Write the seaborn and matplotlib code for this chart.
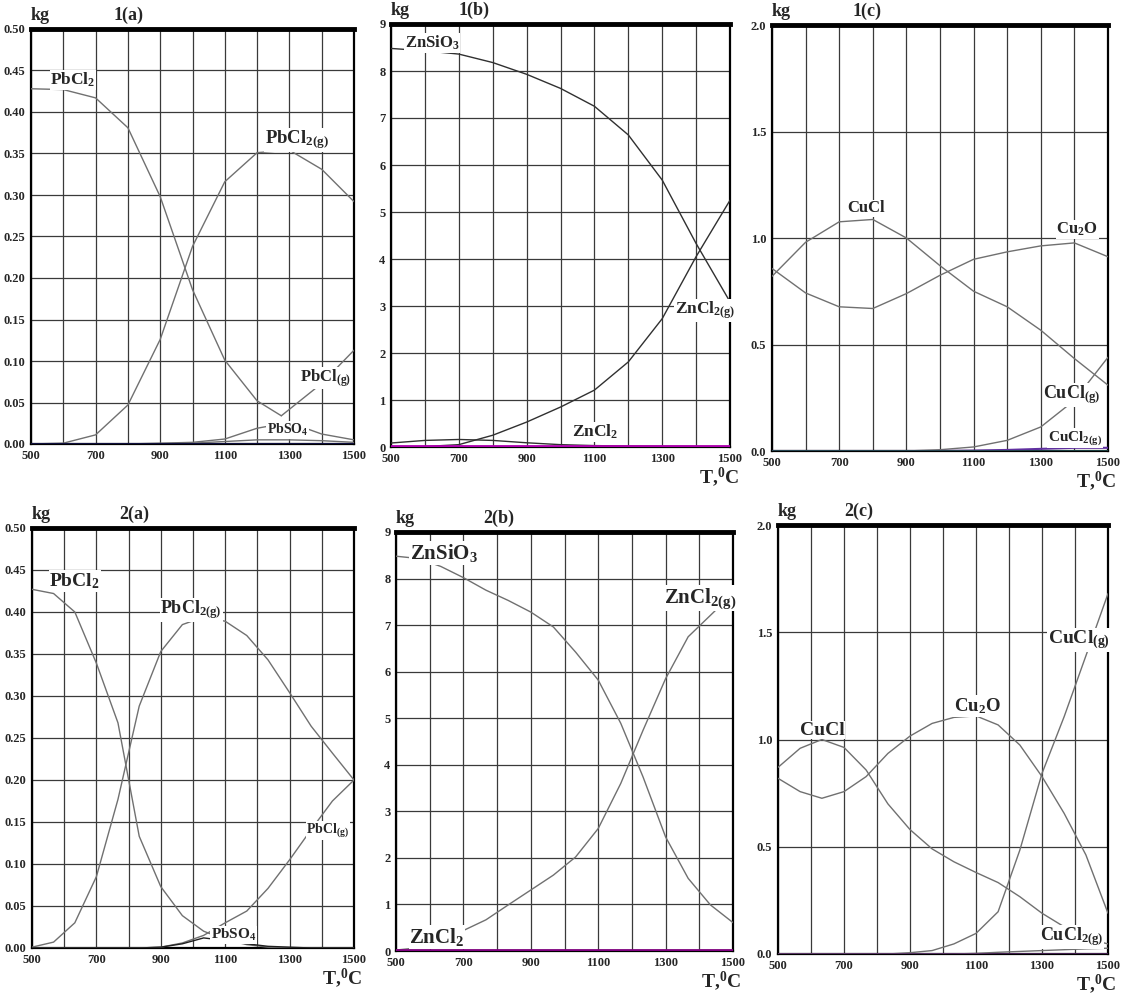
import numpy as np
import pandas as pd
import matplotlib
matplotlib.use("Agg")
import matplotlib.pyplot as plt
import seaborn as sns

# ---------------- data ----------------
T11 = [500, 600, 700, 800, 900, 1000, 1100, 1200, 1300, 1400, 1500]
T16 = [500, 567, 633, 700, 767, 833, 900, 967, 1033, 1100, 1167, 1233, 1300, 1367, 1433, 1500]

# 1(a)
T_1a_pbcl2 = [500, 600, 700, 800, 900, 1000, 1100, 1200, 1275]
pbcl2_1a = [0.428, 0.427, 0.417, 0.381, 0.298, 0.186, 0.101, 0.052, 0.034]
pbcl2g_1a = [0.0, 0.001, 0.011, 0.047, 0.126, 0.238, 0.316, 0.351, 0.354, 0.331, 0.292]
T_1a_pbclg = [1275, 1400, 1500]
pbclg_1a = [0.034, 0.073, 0.113]
pbso4_1a = [0.0, 0.0, 0.0, 0.0, 0.001, 0.002, 0.006, 0.019, 0.026, 0.012, 0.005]
trace_1a = [0.0, 0.0, 0.0, 0.0, 0.0, 0.001, 0.003, 0.005, 0.005, 0.004, 0.002]
zero_1a = [0.0, 0.0, 0.0, 0.0, 0.0, 0.0, 0.0, 0.0, 0.0, 0.0, 0.0]

# 1(b)
znsio3_1b = [8.48, 8.43, 8.36, 8.18, 7.93, 7.63, 7.25, 6.64, 5.68, 4.33, 3.09]
zncl2g_1b = [0.0, 0.01, 0.05, 0.25, 0.53, 0.85, 1.21, 1.81, 2.73, 4.05, 5.25]
zncl2_1b = [0.085, 0.14, 0.16, 0.14, 0.09, 0.05, 0.03, 0.02, 0.015, 0.01, 0.01]
trace_1b = [0.03, 0.03, 0.03, 0.03, 0.03, 0.03, 0.03, 0.03, 0.03, 0.03, 0.03]

# 1(c)
cucl_1c = [0.82, 0.98, 1.076, 1.087, 1.0, 0.87, 0.75, 0.677, 0.567, 0.434, 0.309]
cu2o_1c = [0.857, 0.742, 0.677, 0.669, 0.739, 0.825, 0.90, 0.935, 0.963, 0.977, 0.912]
cuclg_1c = [0.0, 0.0, 0.0, 0.0, 0.0, 0.006, 0.019, 0.05, 0.113, 0.238, 0.44]
cucl2g_1c = [0.0, 0.0, 0.0, 0.0, 0.0, 0.0, 0.002, 0.005, 0.01, 0.015, 0.015]
zero_1c = [0.0, 0.0, 0.0, 0.0, 0.0, 0.0, 0.0, 0.0, 0.0, 0.0, 0.0]

# 2(a)
pbcl2_2a = [0.427, 0.422, 0.40, 0.339, 0.268, 0.133, 0.073, 0.0385, 0.02, 0.01, 0.004, 0.001, 0.0, 0.0, 0.0, 0.0]
pbcl2g_2a = [0.001, 0.007, 0.03, 0.085, 0.177, 0.288, 0.353, 0.385, 0.394, 0.389, 0.372, 0.343, 0.304, 0.264, 0.232, 0.2]
pbclg_2a = [0.0, 0.0, 0.0, 0.0, 0.0, 0.0, 0.001, 0.006, 0.015, 0.03, 0.044, 0.071, 0.105, 0.141, 0.175, 0.2]
pbso4_2a = [0.0, 0.0, 0.0, 0.0, 0.0, 0.0, 0.001, 0.005, 0.012, 0.009, 0.005, 0.002, 0.001, 0.0, 0.0, 0.0]

# 2(b)
znsio3_2b = [8.48, 8.43, 8.26, 8.02, 7.75, 7.53, 7.28, 6.96, 6.42, 5.82, 4.89, 3.74, 2.45, 1.56, 0.99, 0.61]
zncl2g_2b = [0.02, 0.07, 0.2, 0.44, 0.67, 0.99, 1.31, 1.63, 2.02, 2.63, 3.6, 4.74, 5.85, 6.75, 7.21, 7.68]
zncl2_2b = [0.02, 0.02, 0.02, 0.02, 0.02, 0.02, 0.02, 0.02, 0.02, 0.02, 0.02, 0.02, 0.02, 0.02, 0.02, 0.02]

# 2(c)
cucl_2c = [0.87, 0.959, 1.0, 0.963, 0.858, 0.70, 0.58, 0.49, 0.43, 0.38, 0.333, 0.267, 0.19, 0.127, 0.073, 0.047]
cu2o_2c = [0.819, 0.757, 0.726, 0.757, 0.827, 0.935, 1.016, 1.075, 1.103, 1.11, 1.068, 0.974, 0.827, 0.656, 0.462, 0.19]
cuclg_2c = [0.0, 0.0, 0.0, 0.0, 0.0, 0.0, 0.006, 0.016, 0.047, 0.096, 0.197, 0.485, 0.842, 1.106, 1.39, 1.68]
cucl2g_2c = [0.0, 0.0, 0.0, 0.0, 0.0, 0.0, 0.0, 0.0, 0.0, 0.003, 0.008, 0.012, 0.016, 0.02, 0.024, 0.027]
zero_2c = [0.0, 0.0, 0.0, 0.0, 0.0, 0.0, 0.0, 0.0, 0.0, 0.0, 0.0, 0.0, 0.0, 0.0, 0.0, 0.0]

# axis ticks
yt_a = [0.0, 0.05, 0.10, 0.15, 0.20, 0.25, 0.30, 0.35, 0.40, 0.45, 0.50]
yt_b = [0, 1, 2, 3, 4, 5, 6, 7, 8, 9]
yt_c = [0.0, 0.5, 1.0, 1.5, 2.0]
x_grid = [500, 600, 700, 800, 900, 1000, 1100, 1200, 1300, 1400, 1500]
x_labels = ["500", "", "700", "", "900", "", "1100", "", "1300", "", "1500"]

# ---------------- style ----------------
sns.set_style("white")
plt.rcParams["font.family"] = ["Liberation Serif", "DejaVu Serif"]
plt.rcParams["font.weight"] = "bold"
plt.rcParams["mathtext.fontset"] = "custom"
plt.rcParams["mathtext.rm"] = "Liberation Serif:bold"
plt.rcParams["mathtext.it"] = "Liberation Serif:bold"
plt.rcParams["mathtext.bf"] = "Liberation Serif:bold"
plt.rcParams["mathtext.default"] = "rm"

W, H = 1127, 1000
fig = plt.figure(figsize=(W / 100, H / 100), dpi=100)
fig.patch.set_facecolor("white")


def make_ax(l, r, t, b):
    return fig.add_axes([l / W, 1 - b / H, (r - l) / W, (b - t) / H])


GRAY = "#707070"


def style_ax(ax, yt, fmt, ylim, tag, show_T, tag_dx, px_h):
    ax.set_xlim(500, 1500)
    ax.set_ylim(*ylim)
    ax.set_xticks(x_grid)
    ax.set_xticklabels(x_labels)
    ax.set_yticks(yt)
    ax.set_yticklabels([fmt.format(v) for v in yt])
    ax.tick_params(length=0, labelsize=9, pad=4)
    for lab in ax.get_xticklabels() + ax.get_yticklabels():
        lab.set_fontweight("bold")
    ax.grid(True, color="#3a3a3a", lw=0.9)
    ax.set_axisbelow(True)
    for s in ["left", "right", "bottom"]:
        ax.spines[s].set_color("black")
        ax.spines[s].set_linewidth(1.6)
    ax.spines["top"].set_color("black")
    ax.spines["top"].set_linewidth(3.5)
    ax.set_xlabel("")
    ax.set_ylabel("")
    ax.text(0.0, 1.012, "kg", transform=ax.transAxes, fontsize=13,
            fontweight="bold", ha="left", va="bottom")
    ax.text(tag_dx, 1.012, tag, transform=ax.transAxes, fontsize=13,
            fontweight="bold", ha="left", va="bottom")
    if show_T:
        ax.text(1.025, -30.0 / px_h, r"T,$^0$C", transform=ax.transAxes, fontsize=14,
                fontweight="bold", ha="right", va="center")


def line(ax, x, y, color=GRAY, lw=1.0, z=3):
    sns.lineplot(x=x, y=y, ax=ax, color=color, linewidth=lw,
                 estimator=None, sort=False, zorder=z)


def label(ax, x, y, s, size):
    ax.text(x, y, s, fontsize=size, fontweight="bold", ha="center", va="center",
            zorder=6, bbox=dict(facecolor="white", edgecolor="none", pad=0.5))


# ---- 1(a)
ax = make_ax(31, 354, 29, 444)
line(ax, T_1a_pbcl2, pbcl2_1a)
line(ax, T11, pbcl2g_1a)
line(ax, T_1a_pbclg, pbclg_1a)
line(ax, T11, pbso4_1a)
line(ax, T11, trace_1a)
line(ax, T11, zero_1a, color="#101040", lw=2.2, z=4)
style_ax(ax, yt_a, "{:.2f}", (0, 0.5), "1(a)", False, 0.255, 415)
label(ax, 630, 0.439, r"PbCl$_2$", 12.5)
label(ax, 1323, 0.366, r"PbCl$_{2(g)}$", 13.5)
label(ax, 1412, 0.0795, r"PbCl$_{(g)}$", 12)
label(ax, 1295, 0.017, r"PbSO$_4$", 10)

# ---- 1(b)
ax = make_ax(391, 730, 24, 447)
line(ax, T11, znsio3_1b, color="#303030")
line(ax, T11, zncl2g_1b, color="#303030")
line(ax, T11, zncl2_1b, color="#303030")
line(ax, T11, trace_1b, color="#b000b0", lw=2.0, z=4)
style_ax(ax, yt_b, "{:d}", (0, 9), "1(b)", True, 0.2, 423)
label(ax, 621, 8.6, r"ZnSiO$_3$", 12)
label(ax, 1426, 2.91, r"ZnCl$_{2(g)}$", 12.5)
label(ax, 1102, 0.32, r"ZnCl$_2$", 12.5)

# ---- 1(c)
ax = make_ax(772, 1108, 25, 451)
line(ax, T11, cucl_1c)
line(ax, T11, cu2o_1c)
line(ax, T11, cuclg_1c)
line(ax, T11, cucl2g_1c, color="#6030a0", lw=1.5)
line(ax, T11, zero_1c, color="#204848", lw=2.0, z=4)
style_ax(ax, yt_c, "{:.1f}", (0, 2.0), "1(c)", True, 0.24, 426)
label(ax, 780, 1.14, "CuCl", 12)
label(ax, 1408, 1.04, r"Cu$_2$O", 12)
label(ax, 1393, 0.263, r"CuCl$_{(g)}$", 13)
label(ax, 1402, 0.061, r"CuCl$_{2(g)}$", 11)

# ---- 2(a)
ax = make_ax(32, 354, 528, 948)
line(ax, T16, pbcl2_2a)
line(ax, T16, pbcl2g_2a)
line(ax, T16, pbclg_2a)
line(ax, T16, pbso4_2a, color="#202020")
style_ax(ax, yt_a, "{:.2f}", (0, 0.5), "2(a)", True, 0.27, 420)
label(ax, 633, 0.437, r"PbCl$_2$", 14)
label(ax, 994, 0.402, r"PbCl$_{2(g)}$", 13)
label(ax, 1419, 0.14, r"PbCl$_{(g)}$", 10)
label(ax, 1127, 0.0155, r"PbSO$_4$", 11)

# ---- 2(b)
ax = make_ax(396, 733, 532, 951)
line(ax, T16, znsio3_2b)
line(ax, T16, zncl2g_2b)
line(ax, T16, zncl2_2b, color="#800080", lw=2.0, z=4)
style_ax(ax, yt_b, "{:d}", (0, 9), "2(b)", True, 0.26, 419)
label(ax, 642, 8.55, r"ZnSiO$_3$", 15)
label(ax, 1402, 7.58, r"ZnCl$_{2(g)}$", 15)
label(ax, 622, 0.3, r"ZnCl$_2$", 15)

# ---- 2(c)
ax = make_ax(778, 1108, 525, 954)
line(ax, T16, cucl_2c)
line(ax, T16, cu2o_2c)
line(ax, T16, cuclg_2c)
line(ax, T16, cucl2g_2c)
line(ax, T16, zero_2c, color="#5a2a6a", lw=1.8, z=4)
style_ax(ax, yt_c, "{:.1f}", (0, 2.0), "2(c)", True, 0.2, 429)
label(ax, 633, 1.044, "CuCl", 14)
label(ax, 1103, 1.156, r"Cu$_2$O", 13.5)
label(ax, 1412, 1.464, r"CuCl$_{(g)}$", 14)
label(ax, 1390, 0.08, r"CuCl$_{2(g)}$", 13)

fig.savefig("out.png", dpi=100, facecolor="white")
